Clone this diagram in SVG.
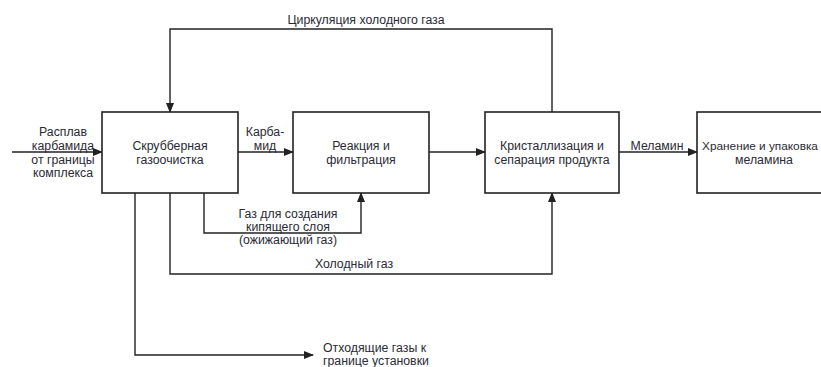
<svg xmlns="http://www.w3.org/2000/svg" width="821" height="367" viewBox="0 0 821 367">
<style>
.box{fill:#fff;stroke:#222;stroke-width:1.6}
.ln{fill:none;stroke:#222;stroke-width:1.4}
text{font-family:"Liberation Sans",Arial,sans-serif;font-size:12.3px;fill:#2a2a35}
.c{text-anchor:middle}
</style>
<defs>
<marker id="ah" markerWidth="10" markerHeight="8" refX="9" refY="4" orient="auto" markerUnits="userSpaceOnUse">
<path d="M0,0 L10,4 L0,8 Z" fill="#222"/>
</marker>
</defs>
<rect width="821" height="367" fill="#fff"/>
<g id="connectors">
<path class="ln" d="M12,152 H102" marker-end="url(#ah)"/>
<path class="ln" d="M238,152 H293" marker-end="url(#ah)"/>
<path class="ln" d="M429,152 H485" marker-end="url(#ah)"/>
<path class="ln" d="M619,152 H697" marker-end="url(#ah)"/>
<path class="ln" d="M552,112 V29 H170 V112" marker-end="url(#ah)"/>
<path class="ln" d="M204,193 V233 H361 V193" marker-end="url(#ah)"/>
<path class="ln" d="M170,193 V274 H552 V193" marker-end="url(#ah)"/>
<path class="ln" d="M135,193 V355 H313" marker-end="url(#ah)"/>
<text class="c" x="366" y="24">Циркуляция холодного газа</text>
<text class="c" x="63" y="136">Расплав</text>
<text class="c" x="63" y="150">карбамида</text>
<text class="c" x="63" y="164">от границы</text>
<text class="c" x="63" y="177">комплекса</text>
<text class="c" x="265" y="136">Карба-</text>
<text class="c" x="265" y="150">мид</text>
<text class="c" x="657" y="150">Меламин</text>
<text class="c" x="288" y="218">Газ для создания</text>
<text class="c" x="288" y="231">кипящего слоя</text>
<text class="c" x="288" y="244">(ожижающий газ)</text>
<text class="c" x="354" y="268">Холодный газ</text>
<text x="323" y="352">Отходящие газы к</text>
<text x="323" y="365">границе установки</text>
</g>
<g id="n1"><rect class="box" x="102" y="112" width="136" height="81"/>
<text class="c" x="170" y="150">Скрубберная</text><text class="c" x="170" y="164">газоочистка</text></g>
<g id="n2"><rect class="box" x="293" y="112" width="136" height="81"/>
<text class="c" x="361" y="150">Реакция и</text><text class="c" x="361" y="164">фильтрация</text></g>
<g id="n3"><rect class="box" x="485" y="112" width="134" height="81"/>
<text class="c" x="552" y="150">Кристаллизация и</text><text class="c" x="552" y="164">сепарация продукта</text></g>
<g id="n4"><rect class="box" x="697" y="112" width="140" height="81"/>
<text class="c" x="760" y="150" style="font-size:11.8px">Хранение и упаковка</text><text class="c" x="764" y="164">меламина</text></g>
</svg>
